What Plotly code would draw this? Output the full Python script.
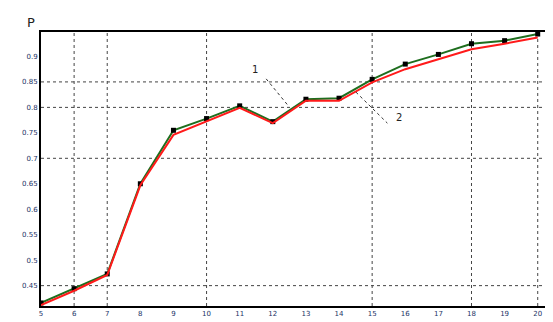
import plotly.graph_objects as go

n_values = list(range(5, 21))
green_p = [0.416, 0.444, 0.473, 0.650, 0.755, 0.778, 0.803, 0.772, 0.816, 0.818,
           0.855, 0.885, 0.904, 0.925, 0.931, 0.944]
red_p = [0.412, 0.440, 0.471, 0.647, 0.746, 0.772, 0.799, 0.769, 0.813, 0.813,
         0.849, 0.875, 0.895, 0.914, 0.925, 0.937]
y_ticks = [0.45, 0.5, 0.55, 0.6, 0.65, 0.7, 0.75, 0.8, 0.85, 0.9]
y_tick_text = ["0.45", "0.5", "0.55", "0.6", "0.65", "0.7", "0.75", "0.8", "0.85", "0.9"]
h_grid = [0.45, 0.7, 0.8, 0.85]
v_grid = [6, 7, 10, 15, 18, 20]

fig = go.Figure()
fig.add_trace(go.Scatter(x=n_values, y=green_p, mode="lines+markers",
                         line=dict(color="#1e6e1e", width=2),
                         marker=dict(color="black", size=5, symbol="square"),
                         showlegend=False))
fig.add_trace(go.Scatter(x=n_values, y=red_p, mode="lines",
                         line=dict(color="#ff1a1a", width=2),
                         showlegend=False))

shapes = []
for yv in h_grid:
    shapes.append(dict(type="line", xref="paper", yref="y", x0=0, x1=1, y0=yv, y1=yv,
                       line=dict(color="#444", width=1, dash="dot"), layer="below"))
for xv in v_grid:
    shapes.append(dict(type="line", xref="x", yref="paper", x0=xv, x1=xv, y0=0, y1=1,
                       line=dict(color="#444", width=1, dash="dot"), layer="below"))
# leader lines for curve labels
shapes.append(dict(type="line", x0=11.80, y0=0.856, x1=12.47, y1=0.803,
                   line=dict(color="#333", width=1, dash="dot")))
shapes.append(dict(type="line", x0=14.51, y0=0.830, x1=15.46, y1=0.769,
                   line=dict(color="#333", width=1, dash="dot")))

fig.update_layout(
    width=553, height=322,
    margin=dict(l=33, r=15, t=24, b=17),
    plot_bgcolor="white", paper_bgcolor="white",
    shapes=shapes,
    font=dict(family="DejaVu Sans", size=7, color="#223366"),
    xaxis=dict(range=[5, 20.25], tickvals=n_values, showgrid=False, zeroline=False,
               showline=True, linecolor="black", linewidth=2, mirror=True,
               ticks="", tickfont=dict(size=7, color="#223366")),
    yaxis=dict(range=[0.41, 0.948], tickvals=y_ticks, ticktext=y_tick_text,
               showgrid=False, zeroline=False,
               showline=True, linecolor="black", linewidth=2, mirror=True,
               ticks="", tickfont=dict(size=7, color="#223366")),
    annotations=[
        dict(text="P", xref="paper", yref="paper", x=-0.02, y=1.0, xanchor="center",
             yanchor="bottom", showarrow=False,
             font=dict(size=13, color="#222", family="DejaVu Sans")),
        dict(text="n", xref="paper", yref="paper", x=1.0, y=0.01, xanchor="left",
             yanchor="bottom", showarrow=False, borderpad=0, xshift=2,
             font=dict(size=8, color="#222", family="DejaVu Sans")),
        dict(text="1", x=11.46, y=0.875, showarrow=False,
             font=dict(size=10, color="#222")),
        dict(text="2", x=15.82, y=0.780, showarrow=False,
             font=dict(size=10, color="#222")),
    ],
)

fig.write_html("out.html")
